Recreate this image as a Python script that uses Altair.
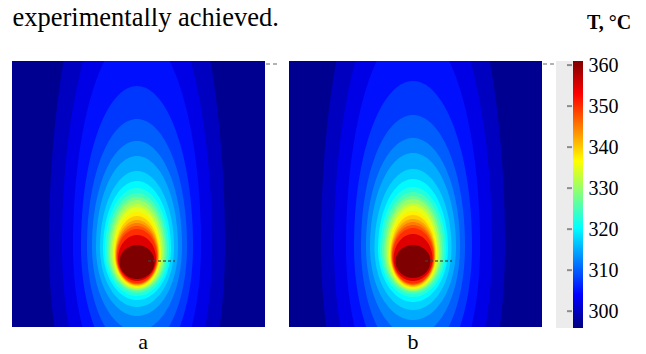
import altair as alt
import numpy as np
import pandas as pd

# ---------------- values ----------------
# colour bar
T_MIN, T_MAX = 295.9, 361.0
cbar_ticks = [300, 310, 320, 330, 340, 350, 360]
jet_values = [295.9, 304.0, 320.3, 328.5, 336.6, 352.9, 361.0]
jet_colors = ["#00007f", "#0000ff", "#00ffff", "#80ff80", "#ffff00", "#ff0000", "#7f0000"]

# panel geometry (position units of the picture)
PANEL_W, PANEL_H = 253, 266
GAP_W = 10
background_T = 297.0

# isotherms, panel a: level, top, widest row, bottom, half width (centre x = a_cx)
a_levels = [300, 302.5, 305, 307.5, 310, 312.5, 315, 317.5, 320, 322.5, 325, 327.5, 330,
            332.5, 335, 337.5, 340, 342.5, 345, 347.5, 350, 355, 361]
a_top    = [-150, -80, -30, 25, 58, 80, 95, 110, 120, 127, 132, 136, 139,
            143, 146, 151, 155, 159, 162, 165, 168, 174, 184]
a_mid    = [185, 185, 185, 185, 185, 185, 186, 187, 188, 189, 190, 191, 192,
            192, 193, 193, 194, 194, 195, 195, 196, 198, 201]
a_bottom = [420, 380, 340, 310, 290, 270, 255, 246, 239, 235, 232, 230, 229,
            228, 227, 226, 225, 224, 223.5, 223, 222, 220, 218]
a_halfw  = [88, 75, 64, 56, 50, 45, 41, 37, 34, 32, 30, 28.5, 27,
            25.5, 24, 23, 22, 21.5, 21, 20.5, 20, 19, 17.5]
a_cx = 125

# isotherms, panel b
b_levels = a_levels
b_top    = [-150, -85, -35, 20, 54, 77, 92, 108, 118, 126, 131, 135, 138,
            142, 145, 150, 154, 158, 161, 164, 167, 173, 184]
b_mid    = [185, 185, 185, 185, 185, 185, 186, 187, 188, 189, 190, 191, 192,
            192, 193, 193, 194, 194, 195, 195, 196, 198, 200]
b_bottom = [430, 390, 350, 318, 296, 275, 259, 249, 241, 236, 233, 231, 230,
            229, 228, 227, 226, 225, 224, 223.5, 222.5, 220, 217]
b_halfw  = [92, 79, 67, 59, 52, 47, 43, 38.5, 35, 33, 31, 29, 27.5,
            26, 24.5, 23.5, 22.5, 22, 21.5, 21, 20.5, 19.5, 17.5]
b_cx = 124

# probe line to the right of the hot spot
probe_x = [136, 163]
probe_y = 200

FONT = "'Liberation Serif', 'Times New Roman', serif"

jet_scale = alt.Scale(domain=jet_values, range=jet_colors, interpolate="rgb", clamp=True)
y_scale = alt.Scale(domain=[0, PANEL_H], nice=False, zero=False, reverse=True)


def isotherm_table(levels, tops, mids, bottoms, halfw, cx):
    rows = []
    phis = np.linspace(0, np.pi / 2, 40)
    for T, t, m, b, w in zip(levels, tops, mids, bottoms, halfw):
        for p in phis:
            rows.append({"T": T, "y": m - (m - t) * np.cos(p), "xl": cx - w * np.sin(p), "xr": cx + w * np.sin(p)})
        for p in phis[::-1][1:]:
            rows.append({"T": T, "y": m + (b - m) * np.cos(p), "xl": cx - w * np.sin(p), "xr": cx + w * np.sin(p)})
    return pd.DataFrame(rows)


def panel(levels, tops, mids, bottoms, halfw, cx, label, label_x, width, extra=None):
    x_scale = alt.Scale(domain=[0, width], nice=False, zero=False)
    iso = isotherm_table(levels, tops, mids, bottoms, halfw, cx)
    bg = alt.Chart(pd.DataFrame({"x0": [0], "x1": [PANEL_W], "y0": [0], "y1": [PANEL_H], "T": [background_T]})).mark_rect().encode(
        x=alt.X("x0:Q", scale=x_scale, axis=None),
        x2="x1:Q",
        y=alt.Y("y0:Q", scale=y_scale, axis=None),
        y2="y1:Q",
        color=alt.Color("T:Q", scale=jet_scale, legend=None),
    )
    layers = [bg]
    for T in levels:
        sub = iso[iso["T"] == T]
        layers.append(
            alt.Chart(sub).mark_area(orient="horizontal", interpolate="linear", clip=True).encode(
                y=alt.Y("y:Q", scale=y_scale, axis=None),
                x=alt.X("xl:Q", scale=x_scale, axis=None, stack=None),
                x2="xr:Q",
                color=alt.Color("T:Q", scale=jet_scale, legend=None),
            )
        )
    probe = alt.Chart(pd.DataFrame({"x0": [probe_x[0]], "x1": [probe_x[1]], "y": [probe_y]})).mark_rule(
        color="#404040", strokeWidth=1.5, strokeDash=[3, 2], opacity=0.8
    ).encode(x=alt.X("x0:Q", scale=x_scale, axis=None), x2="x1:Q", y=alt.Y("y:Q", scale=y_scale, axis=None))
    corner = alt.Chart(pd.DataFrame({"y": [3]})).mark_rule(color="#9a9a9a", strokeWidth=1.5, strokeDash=[4, 3]).encode(
        x=alt.value(PANEL_W + 1), x2=alt.value(PANEL_W + 13), y=alt.Y("y:Q", scale=y_scale, axis=None)
    )
    lab = alt.Chart(pd.DataFrame({"t": [label]})).mark_text(
        font=FONT, fontSize=22, align="center", baseline="alphabetic", color="black"
    ).encode(text="t:N", x=alt.value(label_x), y=alt.value(PANEL_H + 22))
    layers += [probe, corner, lab]
    if extra is not None:
        layers.append(extra)
    return alt.layer(*layers).properties(width=width, height=PANEL_H)


header = alt.Chart(pd.DataFrame({"t": ["experimentally achieved."]})).mark_text(
    font=FONT, fontSize=26.5, align="left", baseline="alphabetic", color="black"
).encode(text="t:N", x=alt.value(0.5), y=alt.value(-35.5))

pa = panel(a_levels, a_top, a_mid, a_bottom, a_halfw, a_cx, "a", 131, PANEL_W + GAP_W, extra=header)
pb = panel(b_levels, b_top, b_mid, b_bottom, b_halfw, b_cx, "b", 124, PANEL_W)

# ---------------- colour bar ----------------
cb_scale = alt.Scale(domain=[T_MIN, T_MAX], nice=False, zero=False)
grad = alt.Gradient(
    gradient="linear",
    x1=0, x2=0, y1=1, y2=0,
    stops=[alt.GradientStop(offset=(v - T_MIN) / (T_MAX - T_MIN), color=c) for v, c in zip(jet_values, jet_colors)],
)
CB_W, CB_H = 27, 267
cb_axis = alt.Axis(
    orient="right", values=cbar_ticks, labelFont=FONT, labelFontSize=20, labelColor="black",
    domain=False, ticks=False, grid=False, labelPadding=5, title=None)
strip = alt.Chart(pd.DataFrame({"lo": [T_MIN], "hi": [T_MAX]})).mark_rect(color="#ececec").encode(
    x=alt.value(0), x2=alt.value(17),
    y=alt.Y("lo:Q", scale=cb_scale, axis=cb_axis),
    y2="hi:Q",
)
bar = alt.Chart(pd.DataFrame({"lo": [T_MIN], "hi": [T_MAX]})).mark_rect(color=grad).encode(
    x=alt.value(17), x2=alt.value(27), y=alt.Y("lo:Q", scale=cb_scale, axis=cb_axis), y2="hi:Q"
)
ticks = alt.Chart(pd.DataFrame({"v": cbar_ticks})).mark_rule(color="#8c8c8c", strokeWidth=2).encode(
    x=alt.value(11), x2=alt.value(16), y=alt.Y("v:Q", scale=cb_scale, axis=cb_axis)
)
ctitle = alt.Chart(pd.DataFrame({"t": ["T, °C"]})).mark_text(
    font=FONT, fontSize=20, fontWeight="bold", align="left", baseline="alphabetic", color="black"
).encode(text="t:N", x=alt.value(31), y=alt.value(-32))
cbar = alt.layer(strip, bar, ticks, ctitle).properties(width=CB_W, height=CB_H)

chart = alt.hconcat(pa, pb, cbar, spacing=14, bounds="flush").properties(
    padding={"left": 4, "top": -4, "right": 0, "bottom": 0}
).configure_view(stroke=None).configure_axis(labelFont=FONT).configure_text(font=FONT)

chart.save("out.html", embed_options={"renderer": "svg", "actions": False})
